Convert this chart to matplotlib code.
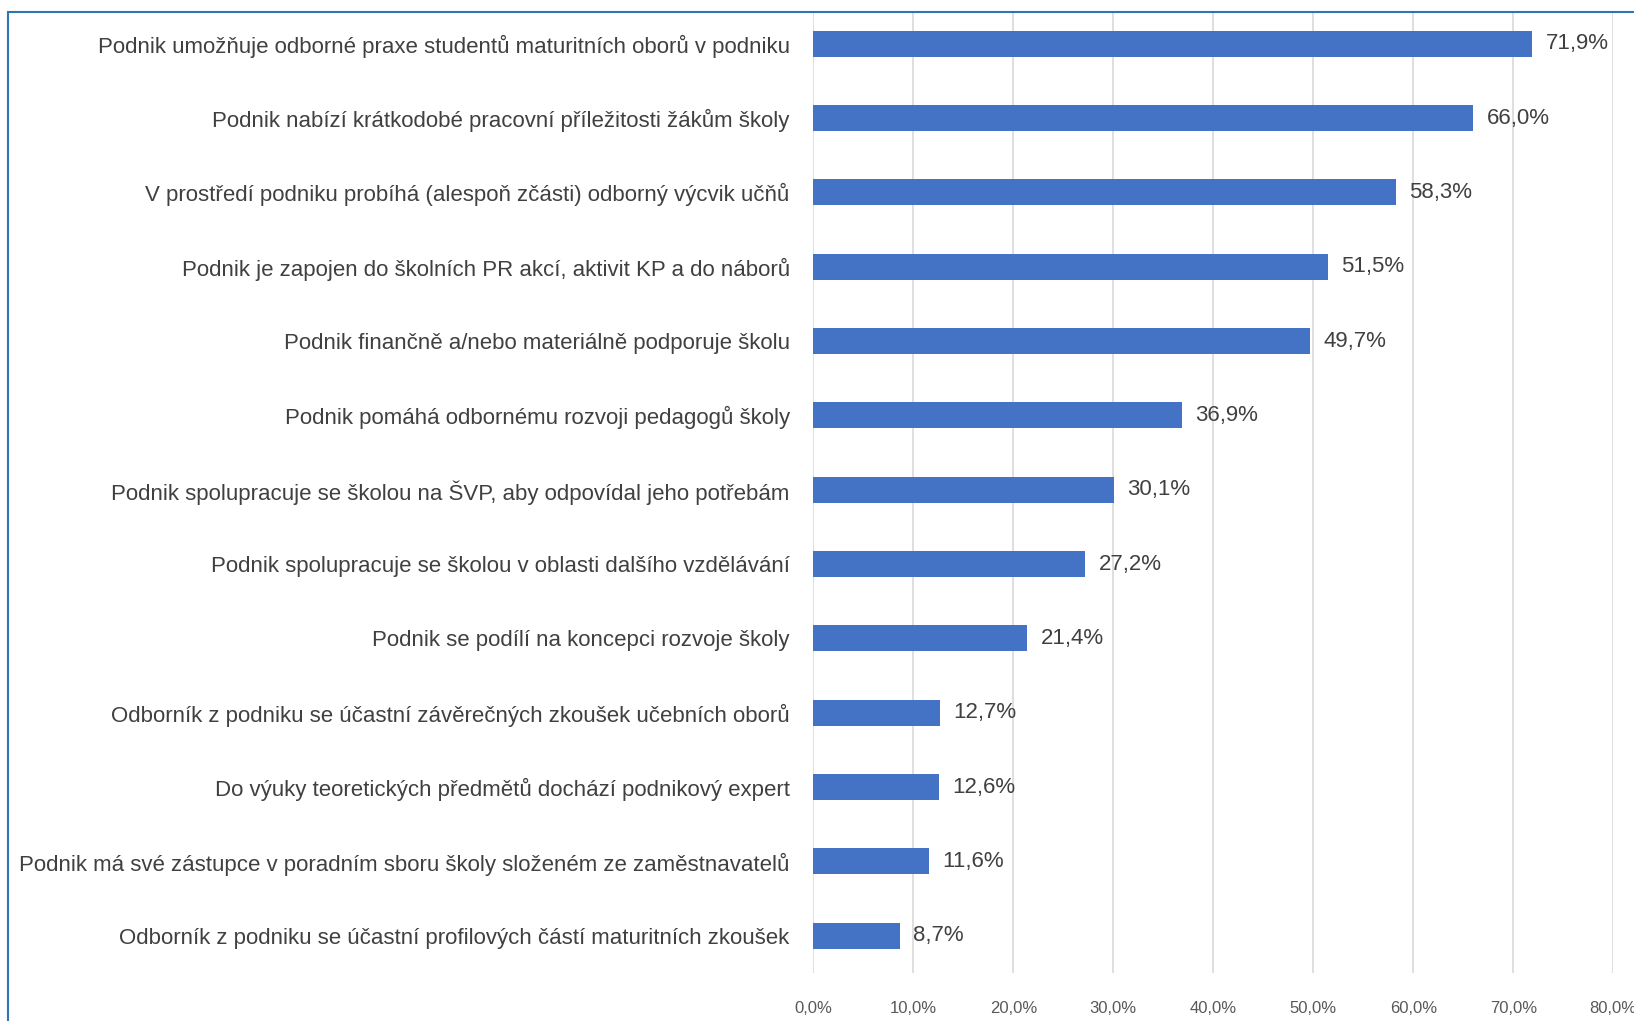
import matplotlib
matplotlib.use('Agg')
import matplotlib.pyplot as plt
from matplotlib.patches import Rectangle
from matplotlib.ticker import FuncFormatter

# data, top to bottom as in the chart
categories = [
    'Podnik umožňuje odborné praxe studentů maturitních oborů v podniku',
    'Podnik nabízí krátkodobé pracovní příležitosti žákům školy',
    'V prostředí podniku probíhá (alespoň zčásti) odborný výcvik učňů',
    'Podnik je zapojen do školních PR akcí, aktivit KP a do náborů',
    'Podnik finančně a/nebo materiálně podporuje školu',
    'Podnik pomáhá odbornému rozvoji pedagogů školy',
    'Podnik spolupracuje se školou na ŠVP, aby odpovídal jeho potřebám',
    'Podnik spolupracuje se školou v oblasti dalšího vzdělávání',
    'Podnik se podílí na koncepci rozvoje školy',
    'Odborník z podniku se účastní závěrečných zkoušek učebních oborů',
    'Do výuky teoretických předmětů dochází podnikový expert',
    'Podnik má své zástupce v poradním sboru školy složeném ze zaměstnavatelů',
    'Odborník z podniku se účastní profilových částí maturitních zkoušek',
]
values = [71.9, 66.0, 58.3, 51.5, 49.7, 36.9, 30.1, 27.2, 21.4, 12.7, 12.6, 11.6, 8.7]
x_ticks = [0, 10, 20, 30, 40, 50, 60, 70, 80]

plt.rcParams['font.family'] = ['Liberation Sans', 'DejaVu Sans']

W, H = 1634, 1021
fig = plt.figure(figsize=(W / 100, H / 100), dpi=100)
ax = fig.add_axes([813.3 / W, 1 - 973 / H, 800 / W, (973 - 12) / H])

n = len(categories)
pos = list(range(n - 1, -1, -1))
ax.barh(pos, values, height=0.35, color='#4472C4', zorder=3)

for p, v in zip(pos, values):
    ax.annotate(f'{v:.1f}%'.replace('.', ','), (v, p), xytext=(9.5, 0),
                textcoords='offset points', va='center', ha='left',
                fontsize=16, color='#404040')

ax.set_xlim(0, 80)
ax.set_ylim(-0.5, n - 0.5 - 5.5 / 74.36)
ax.set_xticks(x_ticks)
ax.xaxis.set_major_formatter(FuncFormatter(lambda x, _: f'{x:.1f}%'.replace('.', ',')))
ax.set_yticks(pos)
ax.set_yticklabels(categories)
ax.tick_params(axis='y', length=0, pad=17, labelsize=16, labelcolor='#404040')
ax.tick_params(axis='x', length=0, pad=20, labelsize=12, labelcolor='#595959')
ax.grid(axis='x', color='#D9D9D9', linewidth=1.2, zorder=0)
for s in ax.spines.values():
    s.set_visible(False)

# outer chart frame (right and bottom edges fall outside the image)
fig.patches.append(Rectangle((8 / W, -0.1), 1.2, 1 - 12 / H + 0.1,
                             transform=fig.transFigure, fill=False,
                             edgecolor='#2E75B6', linewidth=1.5))

fig.savefig('out.png', dpi=100)
